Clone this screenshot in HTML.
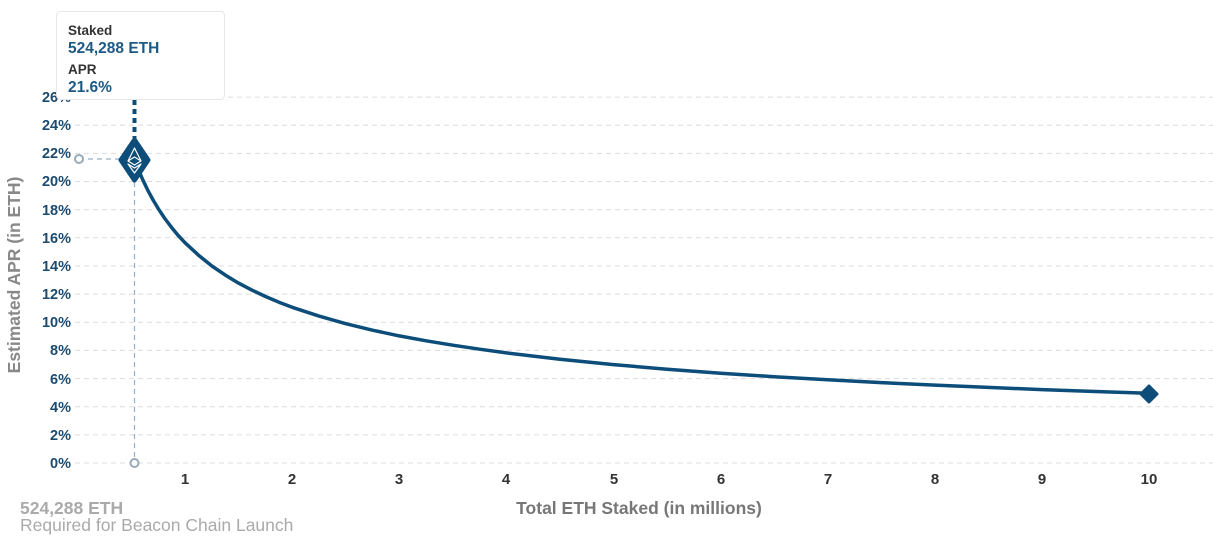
<!DOCTYPE html>
<html><head><meta charset="utf-8"><style>
html,body{margin:0;padding:0;background:#fff;width:1213px;height:543px;overflow:hidden;font-family:"Liberation Sans",sans-serif}
</style></head><body>
<svg width="1213" height="543" viewBox="0 0 1213 543" xmlns="http://www.w3.org/2000/svg" style="position:absolute;left:0;top:0">
<g stroke="#dcdcdc" stroke-width="1" stroke-dasharray="5,4">
<line x1="75" x2="1213" y1="463" y2="463"/><line x1="75" x2="1213" y1="434.9" y2="434.9"/><line x1="75" x2="1213" y1="406.7" y2="406.7"/><line x1="75" x2="1213" y1="378.6" y2="378.6"/><line x1="75" x2="1213" y1="350.4" y2="350.4"/><line x1="75" x2="1213" y1="322.3" y2="322.3"/><line x1="75" x2="1213" y1="294.1" y2="294.1"/><line x1="75" x2="1213" y1="266" y2="266"/><line x1="75" x2="1213" y1="237.8" y2="237.8"/><line x1="75" x2="1213" y1="209.7" y2="209.7"/><line x1="75" x2="1213" y1="181.5" y2="181.5"/><line x1="75" x2="1213" y1="153.4" y2="153.4"/><line x1="75" x2="1213" y1="125.2" y2="125.2"/><line x1="75" x2="1213" y1="97.1" y2="97.1"/>
</g>
<g font-size="14.5" font-weight="bold" fill="#1c4a6e" text-anchor="end">
<text x="71" y="468">0%</text><text x="71" y="440">2%</text><text x="71" y="412">4%</text><text x="71" y="384">6%</text><text x="71" y="355">8%</text><text x="71" y="327">10%</text><text x="71" y="299">12%</text><text x="71" y="271">14%</text><text x="71" y="243">16%</text><text x="71" y="215">18%</text><text x="71" y="186">20%</text><text x="71" y="158">22%</text><text x="71" y="130">24%</text><text x="71" y="102">26%</text>
</g>
<g font-size="15" font-weight="bold" fill="#333" text-anchor="middle">
<text x="185" y="484">1</text><text x="292" y="484">2</text><text x="399" y="484">3</text><text x="506" y="484">4</text><text x="614" y="484">5</text><text x="721" y="484">6</text><text x="828" y="484">7</text><text x="935" y="484">8</text><text x="1042" y="484">9</text><text x="1149" y="484">10</text>
</g>
<text x="639" y="514" font-size="17.5" font-weight="bold" fill="#777" text-anchor="middle">Total ETH Staked  (in millions)</text>
<text transform="translate(20,275) rotate(-90)" font-size="17.5" font-weight="bold" fill="#888" text-anchor="middle">Estimated APR (in ETH)</text>
<text x="20" y="514" font-size="17.5" font-weight="bold" fill="#aaa">524,288 ETH</text>
<text x="20" y="531" font-size="17.5" fill="#aaa">Required for Beacon Chain Launch</text>
<line x1="79" y1="159" x2="120" y2="159" stroke="#8fb2cc" stroke-width="1.2" stroke-dasharray="5,4"/>
<line x1="134.5" y1="182" x2="134.5" y2="459" stroke="#8fb2cc" stroke-width="1.2" stroke-dasharray="5,4"/>
<circle cx="79" cy="159" r="4" fill="#fff" stroke="#9ab" stroke-width="2"/>
<circle cx="134.5" cy="463" r="4" fill="#fff" stroke="#9ab" stroke-width="2"/>
<line x1="134.5" y1="100" x2="134.5" y2="138" stroke="#0d4d7a" stroke-width="4" stroke-dasharray="5,4"/>
<polyline fill="none" stroke="#0d4d7a" stroke-width="3.5" stroke-linejoin="round" stroke-linecap="round" points="134.2,158.9 138,168.8 142.3,178.7 147.6,189.9 152.8,199.5 158.3,208.7 164.8,218.5 171.7,227.6 178.2,235.5 185.1,242.8 198.5,255.2 211.9,266 225.3,275.1 238.7,283.2 252.1,290.2 265.5,296.5 278.9,302.2 292.2,307.3 319,316.1 345.8,323.7 372.5,330.2 399.3,335.9 426.1,340.8 452.8,345.2 479.6,349.2 506.4,352.9 559.9,359.2 613.5,364.6 667,369.2 720.6,373.2 774.1,376.7 827.7,379.8 881.2,382.6 934.8,385.1 988.3,387.4 1041.9,389.6 1095.4,391.5 1149,393.3"/>
<path d="M1141,394 L1149,386 L1157,394 L1149,402 Z" fill="#0d4d7a" stroke="#0d4d7a" stroke-width="3" stroke-linejoin="round"/>
<path d="M134.5,140 L148,160 L134.5,180 L121,160 Z" fill="#0d4d7a" stroke="#0d4d7a" stroke-width="5" stroke-linejoin="round"/>
<g fill="none" stroke="#fff" stroke-width="1.2" stroke-linejoin="round">
<path d="M134.5,148 L141,161 L134.5,165 L128,161 Z"/><path d="M128,161 L134.5,157 L141,161"/><path d="M128,164 L134.5,173 L141,164 L134.5,168 Z"/>
</g>
<rect x="56.5" y="11.5" width="168" height="88" rx="4" fill="#fff" stroke="#e6e6e6"/>
<text x="68" y="35" font-size="13.5" font-weight="bold" fill="#333">Staked</text>
<text x="68" y="53" font-size="15.5" font-weight="bold" fill="#1c5a85">524,288 ETH</text>
<text x="68" y="74" font-size="13.5" font-weight="bold" fill="#333">APR</text>
<text x="68" y="92" font-size="15.5" font-weight="bold" fill="#1c5a85">21.6%</text>
</svg>
</body></html>
